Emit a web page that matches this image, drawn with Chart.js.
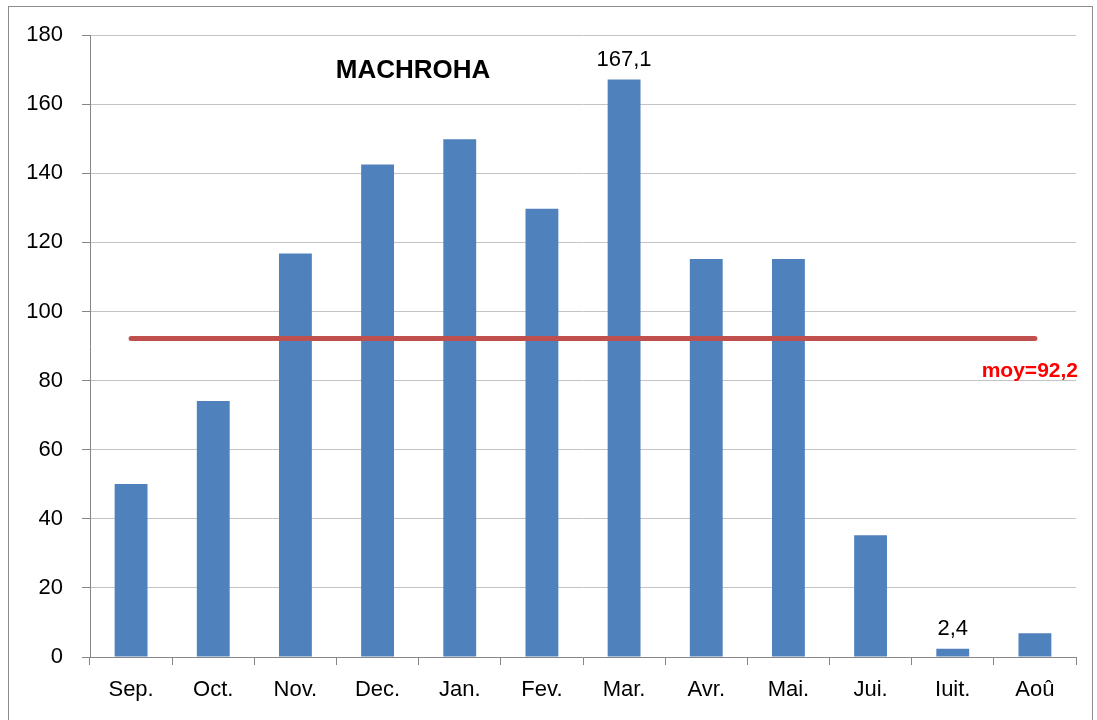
<!DOCTYPE html>
<html>
<head>
<meta charset="utf-8">
<script src="https://cdn.jsdelivr.net/npm/chart.js@4/dist/chart.umd.min.js"></script>
<style>
  html, body { margin: 0; padding: 0; background: #fff; }
  #wrap { width: 1097px; height: 720px; position: relative; }
</style>
</head>
<body>
<div id="wrap"><canvas id="c" width="1097" height="720"></canvas></div>
<script>
const MONTHS = ['Sep.', 'Oct.', 'Nov.', 'Dec.', 'Jan.', 'Fev.', 'Mar.', 'Avr.', 'Mai.', 'Jui.', 'Iuit.', 'Aoû'];
const RAIN = [50.1, 74.1, 116.8, 142.5, 149.8, 129.7, 167.1, 115.2, 115.2, 35.2, 2.4, 6.9];
const MEAN = 92.2;
const LABELLED = { 6: '167,1', 10: '2,4' };

const FONT = '"Liberation Sans", Arial, sans-serif';

// frame, title and text annotations
const extras = {
    id: 'extras',
    beforeDraw(chart) {
        const ctx = chart.ctx;
        ctx.save();
        ctx.fillStyle = '#fff';
        ctx.fillRect(0, 0, chart.width, chart.height);
        ctx.strokeStyle = '#8c8c8c';
        ctx.lineWidth = 1;
        ctx.strokeRect(8.5, 6.5, 1084, 730);
        ctx.restore();
    },
    afterDatasetsDraw(chart) {
        const ctx = chart.ctx;
        const area = chart.chartArea;
        const y = chart.scales.y;
        ctx.save();
        ctx.fillStyle = '#000';
        ctx.font = 'bold 26px ' + FONT;
        ctx.textAlign = 'center';
        ctx.textBaseline = 'middle';
        ctx.fillText('MACHROHA', 413, 71);

        ctx.font = '22px ' + FONT;
        ctx.textBaseline = 'bottom';
        const bars = chart.getDatasetMeta(1).data;
        Object.keys(LABELLED).forEach(i => {
            const b = bars[i];
            ctx.fillText(LABELLED[i], b.x, b.y - 9);
        });

        ctx.fillStyle = '#ff0000';
        ctx.font = 'bold 21px ' + FONT;
        ctx.textAlign = 'right';
        ctx.textBaseline = 'middle';
        ctx.fillText('moy=' + String(MEAN).replace('.', ','), area.right + 2, y.getPixelForValue(MEAN) + 33);
        ctx.restore();
    },
};

new Chart(document.getElementById('c'), {
    data: {
        labels: MONTHS,
        datasets: [
            {
                type: 'line',
                data: MONTHS.map(() => MEAN),
                borderColor: '#C0504D',
                borderWidth: 5,
                borderCapStyle: 'round',
                pointRadius: 0,
                order: 0,
            },
            {
                type: 'bar',
                data: RAIN,
                backgroundColor: '#4F81BD',
                categoryPercentage: 1,
                barPercentage: 0.4,
                order: 1,
            },
        ],
    },
    options: {
        responsive: false,
        animation: false,
        layout: { padding: { top: 35, right: 21, left: 0, bottom: 0 } },
        plugins: { legend: { display: false }, tooltip: { enabled: false } },
        scales: {
            x: {
                offset: true,
                grid: { offset: true, drawOnChartArea: false, drawTicks: true, tickLength: 8, color: '#868686' },
                border: { color: '#868686' },
                ticks: { color: '#000', font: { family: FONT, size: 22 }, padding: 12, maxRotation: 0 },
                afterFit(s) { s.height = 63; },
            },
            y: {
                min: 0,
                max: 180,
                ticks: { stepSize: 20, color: '#000', font: { family: FONT, size: 22 }, padding: 19 },
                grid: { color: '#c4c4c4', tickColor: '#868686', tickLength: 8 },
                border: { color: '#868686' },
                afterFit(s) { s.width = 90; },
            },
        },
    },
    plugins: [extras],
});
</script>
</body>
</html>
